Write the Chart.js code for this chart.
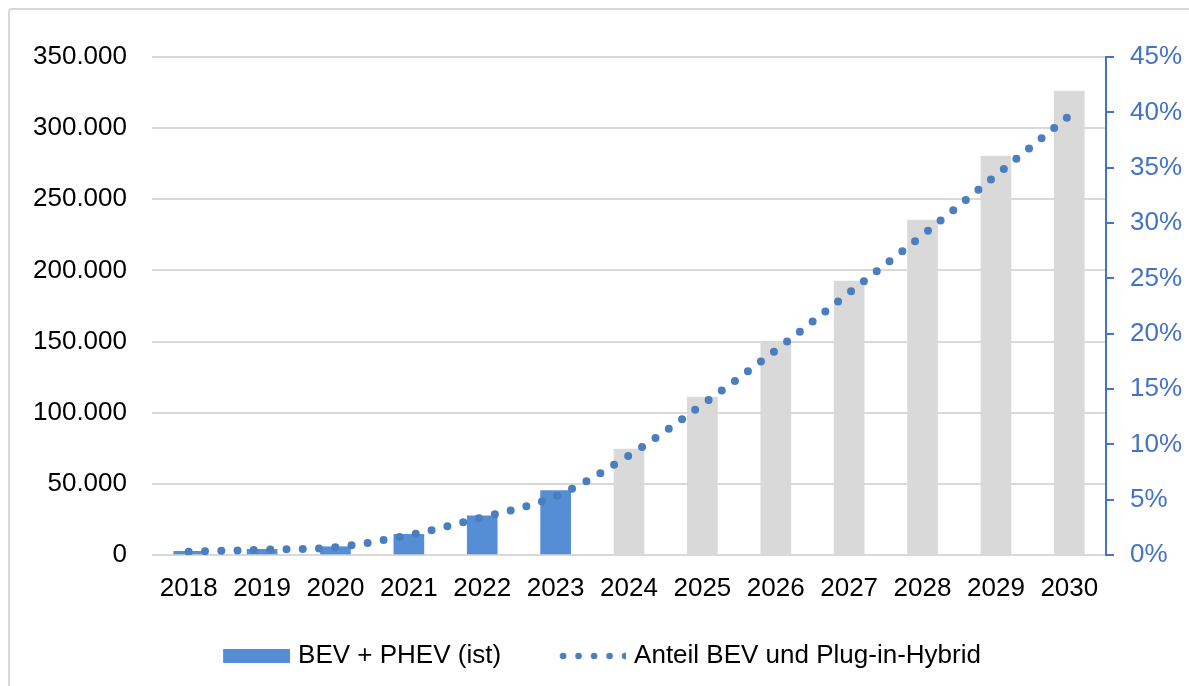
<!DOCTYPE html>
<html>
<head>
<meta charset="utf-8">
<script src="https://cdn.jsdelivr.net/npm/chart.js@4"></script>
<style>
    body { margin: 0; background: #fff; }
    #wrap { position: relative; width: 1189px; height: 686px; overflow: hidden; }
    #frame { position: absolute; left: 8px; top: 8px; width: 1200px; height: 700px; border: 2px solid #d9d9d9; border-radius: 4px; }
    #wrap canvas { position: absolute; left: 0; top: 0; }
</style>
</head>
<body>
<div id="wrap">
    <div id="frame"></div>
    <canvas id="evChart" width="1189" height="686"></canvas>
</div>
<script>
const years = ["2018","2019","2020","2021","2022","2023","2024","2025","2026","2027","2028","2029","2030"];
// Neuzulassungen BEV + PHEV, bis 2023 Ist-Werte, danach Prognose
const istValues = [2600, 4000, 5800, 14500, 27600, 45200, null, null, null, null, null, null, null];
const prognoseValues = [null, null, null, null, null, null, 74500, 111000, 150000, 192600, 235400, 280400, 326100];
// Anteil an den Neuzulassungen in Prozent
const anteilValues = [0.3, 0.48, 0.7, 1.8, 3.4, 5.3, 9.0, 13.6, 18.5, 23.7, 28.9, 34.3, 39.7];

const leftTicks = [0, 50000, 100000, 150000, 200000, 250000, 300000, 350000];

const blue = "#558ed5";
const grey = "#d9d9d9";
const lineBlue = "#4a7ebf";
const axisBlue = "#4472c4";
const font = { family: "'Liberation Sans', Arial, sans-serif", size: 26 };

function thousands(v){
    return String(v).replace(/\B(?=(\d{3})+(?!\d))/g, ".");
}

// legend icons: 90px wide, symbol sits in the right 67px
// (the blank part on the left gives the gap between the two entries)
function rectIcon(){
    var c = document.createElement("canvas");
    c.width = 90; c.height = 14;
    var ctx = c.getContext("2d");
    ctx.fillStyle = blue;
    ctx.fillRect(23, 0, 67, 14);
    return c;
}
function dotsIcon(){
    var c = document.createElement("canvas");
    c.width = 90; c.height = 10;
    var ctx = c.getContext("2d");
    ctx.fillStyle = lineBlue;
    for(var i = 0; i < 5; i++){
        ctx.beginPath();
        ctx.arc(27 + i * 15.5, 5, 3.3, 0, Math.PI * 2);
        ctx.fill();
    }
    return c;
}

const legendIcons = [rectIcon(), dotsIcon()];

var chart = new Chart("evChart", {
    type: "bar",
    data: {
        labels: years,
        datasets: [{
            label: "BEV + PHEV (ist)",
            data: istValues,
            backgroundColor: blue,
            order: 1
        },{
            label: "BEV + PHEV (Prognose)",
            data: prognoseValues,
            backgroundColor: grey,
            order: 1
        },{
            type: "line",
            label: "Anteil BEV und Plug-in-Hybrid",
            data: anteilValues,
            yAxisID: "y1",
            borderColor: lineBlue,
            borderWidth: 8,
            borderDash: [0, 16.3],
            borderCapStyle: "round",
            pointRadius: 0,
            tension: 0.35,
            fill: false,
            order: 0
        }]
    },
    options: {
        responsive: false,
        animation: false,
        skipNull: true,
        barThickness: 30,
        layout: { padding: { left: -3, top: 57, right: 0, bottom: 7 } },
        plugins: {
            tooltip: { enabled: false },
            legend: {
                position: "bottom",
                labels: {
                    font: font,
                    color: "#000",
                    usePointStyle: true,
                    pointStyleWidth: 80,
                    boxHeight: 14,
                    padding: 40,
                    generateLabels: function(chart){
                        return [0, 2].map(function(idx, k){
                            return {
                                text: chart.data.datasets[idx].label,
                                pointStyle: legendIcons[k],
                                datasetIndex: idx,
                                fontColor: "#000",
                                fillStyle: "transparent",
                                strokeStyle: "transparent",
                                lineWidth: 0,
                                hidden: false
                            };
                        });
                    }
                }
            }
        },
        scales: {
            x: {
                grid: { display: false, drawTicks: false },
                border: { display: false },
                ticks: { font: font, color: "#000", padding: 18, maxRotation: 0 },
                afterFit: function(scale){ scale.height = 48; }
            },
            y: {
                min: 0,
                max: 350000,
                afterBuildTicks: function(scale){
                    scale.ticks = leftTicks.map(function(v){ return { value: v }; });
                },
                grid: { color: grey, lineWidth: 2, drawTicks: false },
                border: { display: false },
                ticks: {
                    font: font,
                    color: "#000",
                    padding: 25,
                    callback: function(v){ return thousands(v); }
                },
                afterFit: function(scale){ scale.width = 155; }
            },
            y1: {
                position: "right",
                min: 0,
                max: 45,
                ticks: {
                    stepSize: 5,
                    font: font,
                    color: axisBlue,
                    padding: 16,
                    callback: function(v){ return v + "%"; }
                },
                grid: { drawOnChartArea: false, drawTicks: true, tickLength: 8, color: axisBlue, lineWidth: 2 },
                border: { display: true, color: axisBlue, width: 2 },
                afterFit: function(scale){ scale.width = 83; }
            }
        }
    }
});
</script>
</body>
</html>
